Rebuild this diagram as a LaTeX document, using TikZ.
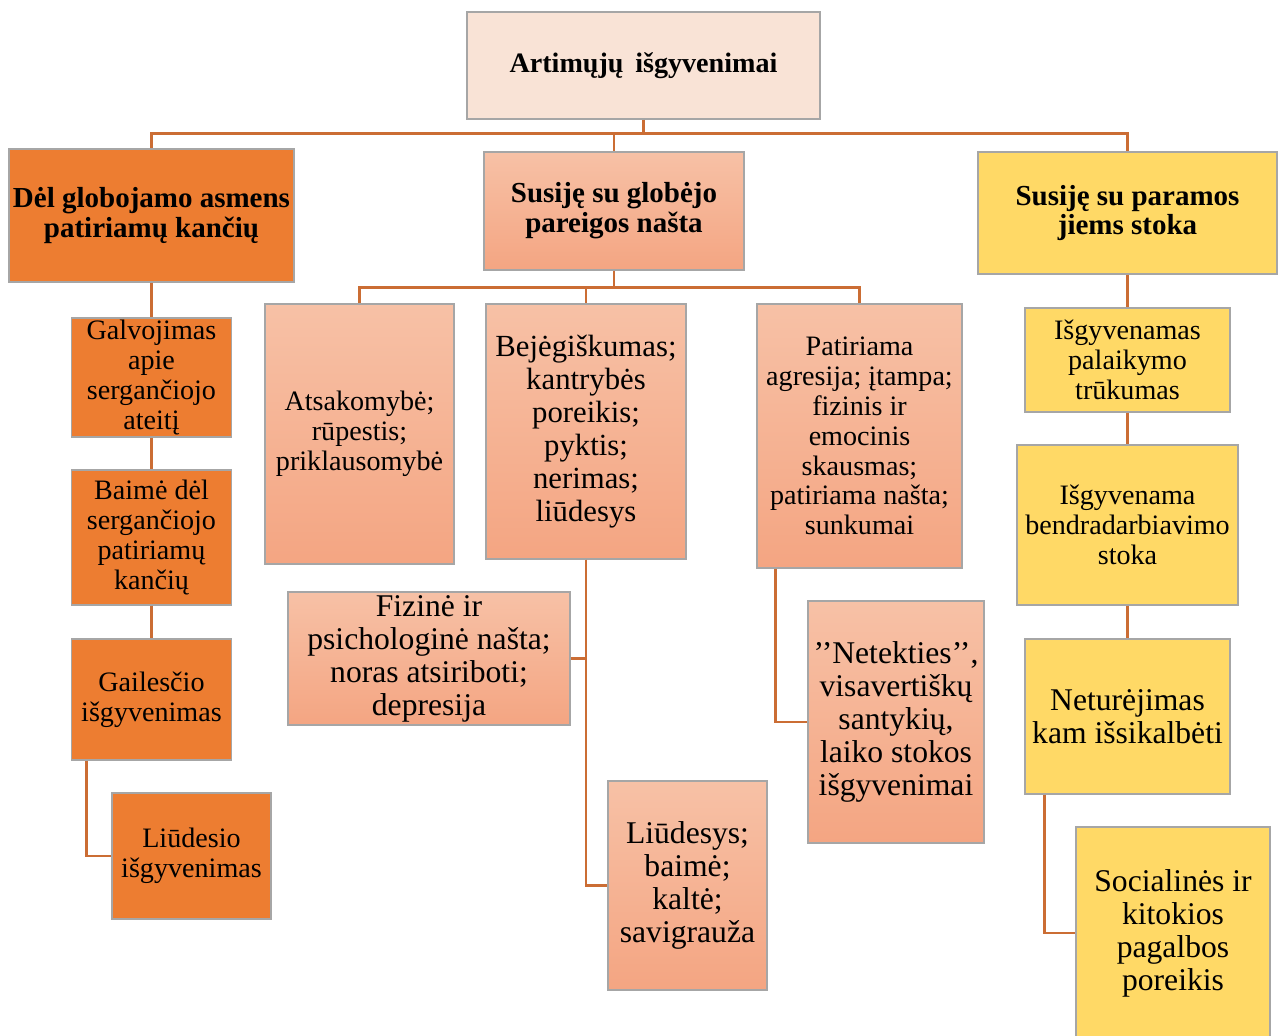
\documentclass[tikz,border=0pt]{standalone}
\usepackage{fontspec}
\setmainfont{Liberation Serif}
\usepackage{tikz}

\definecolor{linkc}{HTML}{CB6D34}
\definecolor{orng}{HTML}{ED7D31}
\definecolor{salmtop}{HTML}{F7C1A6}
\definecolor{salmbot}{HTML}{F4A582}
\definecolor{ylw}{HTML}{FFD966}
\definecolor{peach}{HTML}{F9E3D6}
\definecolor{rim}{HTML}{A6A6A6}

\tikzstyle{box}=[draw=rim,line width=0.8pt,rectangle,align=center,inner sep=1pt]
\tikzstyle{orangebox}=[box,fill=orng]
\tikzstyle{salmonbox}=[box,top color=salmtop,bottom color=salmbot]
\tikzstyle{yellowbox}=[box,fill=ylw]
\tikzstyle{link}=[draw=linkc,line width=1.5pt]

\begin{document}
\begin{tikzpicture}[x=0.02cm,y=-0.02cm,
head/.style={font=\fontsize{16.5}{17}\bfseries\selectfont},
mid/.style={font=\fontsize{16}{17}\selectfont},
big/.style={font=\fontsize{18}{18.8}\selectfont}]
\useasboundingbox (0,0) rectangle (1284,1035);

% top level
\node [box,fill=peach,minimum width=7.06cm,minimum height=2.14cm,
  font=\fontsize{16}{17}\bfseries\selectfont] (root) at (643.5,65.5) {Artimųjų\, išgyvenimai};

\node [orangebox,head,minimum width=5.70cm,minimum height=2.66cm] (dgl) at (151.5,215.5)
  {Dėl globojamo asmens\\patiriamų kančių};
\node [salmonbox,head,minimum width=5.20cm,minimum height=2.36cm] (gn) at (614,211)
  {Susiję su globėjo\\pareigos našta};
\node [yellowbox,head,minimum width=5.98cm,minimum height=2.44cm] (prm) at (1127.5,213)
  {Susiję su paramos\\jiems stoka};

% left column
\node [orangebox,mid,minimum width=3.20cm,minimum height=2.38cm] (galv) at (151.5,377.5)
  {Galvojimas\\apie\\sergančiojo\\ateitį};
\node [orangebox,mid,minimum width=3.20cm,minimum height=2.70cm] (baim) at (151.5,537.5)
  {Baimė dėl\\sergančiojo\\patiriamų\\kančių};
\node [orangebox,mid,minimum width=3.20cm,minimum height=2.42cm] (gail) at (151.5,699.5)
  {Gailesčio\\išgyvenimas};
\node [orangebox,mid,minimum width=3.18cm,minimum height=2.52cm] (liud) at (191.5,856)
  {Liūdesio\\išgyvenimas};

% middle column
\node [salmonbox,mid,minimum width=3.78cm,minimum height=5.20cm] (ats) at (359.5,434)
  {Atsakomybė;\\rūpestis;\\priklausomybė};
\node [salmonbox,font=\fontsize{17.5}{18.8}\selectfont,minimum width=4.00cm,minimum height=5.10cm] (bej) at (586,431.5)
  {Bejėgiškumas;\\kantrybės\\poreikis;\\pyktis;\\nerimas;\\liūdesys};
\node [salmonbox,mid,minimum width=4.10cm,minimum height=5.28cm] (agr) at (859.5,436)
  {Patiriama\\agresija; įtampa;\\fizinis ir\\emocinis\\skausmas;\\patiriama našta;\\sunkumai};
\node [salmonbox,big,minimum width=5.64cm,minimum height=2.66cm] (fiz) at (429,658.5)
  {Fizinė ir\\psichologinė našta;\\noras atsiriboti;\\depresija};
\node [salmonbox,big,minimum width=3.18cm,minimum height=4.18cm] (kalt) at (687.5,885.5)
  {Liūdesys;\\baimė;\\kaltė;\\savigrauža};
\node [salmonbox,big,minimum width=3.52cm,minimum height=4.84cm] (net) at (896,722)
  {’’Netekties’’,\\visavertiškų\\santykių,\\laiko stokos\\išgyvenimai};

% right column
\node [yellowbox,mid,minimum width=4.10cm,minimum height=2.08cm] (palk) at (1127.5,360)
  {Išgyvenamas\\palaikymo\\trūkumas};
\node [yellowbox,mid,minimum width=4.42cm,minimum height=3.20cm] (bend) at (1127.5,525)
  {Išgyvenama\\bendradarbiavimo\\stoka};
\node [yellowbox,big,minimum width=4.10cm,minimum height=3.10cm] (isik) at (1127.5,716.5)
  {Neturėjimas\\kam išsikalbėti};
\node [yellowbox,big,minimum width=3.88cm,minimum height=4.24cm] (soc) at (1173,933)
  {Socialinės ir\\kitokios\\pagalbos\\poreikis};

% connectors
\draw [link] (root.south) -- ++(0,14) coordinate (hub);
\draw [link] (hub) -| (dgl.north);
\draw [link] (hub) -| (gn.north);
\draw [link] (hub) -| (prm.north);

\draw [link] (dgl.south) -- (galv.north);
\draw [link] (galv.south) -- (baim.north);
\draw [link] (baim.south) -- (gail.north);
\draw [link] ([xshift=0.32cm]gail.south west) |- (liud.west);

\draw [link] (gn.south) -- ++(0,17) coordinate (gnhub);
\draw [link] (gnhub) -| (ats.north);
\draw [link] (gnhub) -| (bej.north);
\draw [link] (gnhub) -| (agr.north);
\draw [link] (bej.south) |- (fiz.east);
\draw [link] (bej.south) |- (kalt.west);
\draw [link] ([xshift=0.38cm]agr.south west) |- (net.west);

\draw [link] (prm.south) -- (palk.north);
\draw [link] (palk.south) -- (bend.north);
\draw [link] (bend.south) -- (isik.north);
\draw [link] ([xshift=0.40cm]isik.south west) |- (soc.west);
\end{tikzpicture}
\end{document}
